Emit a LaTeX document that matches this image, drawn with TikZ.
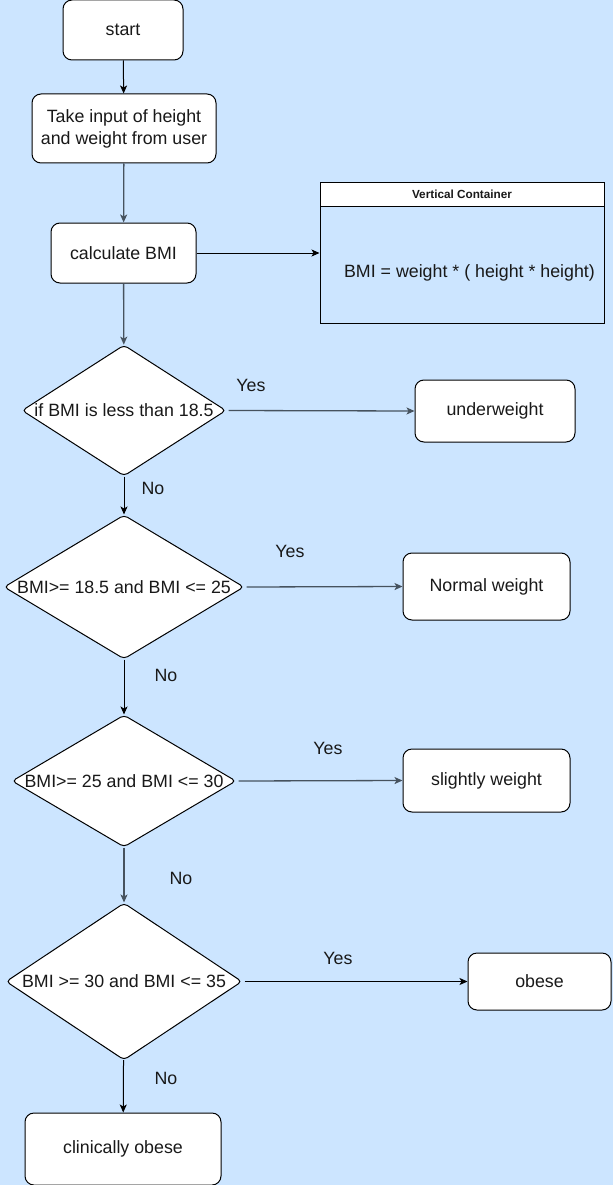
\documentclass[tikz,border=0pt]{standalone}
\usepackage{fontspec}
\setmainfont{Liberation Sans}
\usetikzlibrary{arrows.meta,shapes.geometric}
\definecolor{bg}{HTML}{CCE5FF}
\definecolor{lgray}{HTML}{46525E}
\begin{document}
\begin{tikzpicture}[x=1pt,y=-1pt,
  every node/.style={font=\fontsize{17.8}{22}\selectfont, text=black!90},
  box/.style={draw=black, fill=white, line width=1pt, rounded corners=9pt, inner sep=0pt, align=center},
  dec/.style={draw=black, fill=white, line width=1pt, shape=diamond, rounded corners=4pt, inner sep=0pt},
  lab/.style={inner sep=0pt},
  arr/.style={line width=1pt, -{Stealth[length=8pt,width=7pt,inset=2pt]}},
  garr/.style={arr, draw=lgray, line width=1.3pt},
  barr/.style={arr, draw=black}]
\fill[bg] (0,0) rectangle (613,1185);
\useasboundingbox (0,0) rectangle (613,1185);

% process boxes
\node[box, minimum width=120, minimum height=60] (start) at (123,30) {start};
\node[box, minimum width=184, minimum height=69] (input) at (124,128.5) {Take input of height\\and weight from user};
\node[box, minimum width=145, minimum height=60] (calc) at (123.5,253) {calculate BMI};

% container
\node[draw=black, fill=bg, line width=1pt, minimum width=284, minimum height=140, inner sep=0pt] (cont) at (462,253) {};
\node[draw=black, fill=white, line width=1pt, minimum width=284, minimum height=23, inner sep=0pt, font=\fontsize{11.75}{14}\selectfont\bfseries] (conthead) at (462,194.5) {Vertical Container};
\node[lab] (formula) at (469.5,272.5) {BMI = weight * ( height * height)};

% decisions
\node[dec, minimum width=204, minimum height=131, label={center:if BMI is less than 18.5}] (d1) at (124,410.5) {};
\node[dec, minimum width=240, minimum height=144, label={center:BMI>= 18.5 and BMI <= 25}] (d2) at (124,587) {};
\node[dec, minimum width=224, minimum height=132, label={center:BMI>= 25 and BMI <= 30}] (d3) at (124,781) {};
\node[dec, minimum width=236, minimum height=157, label={center:BMI >= 30 and BMI <= 35}] (d4) at (124,981.5) {};

% outcome boxes
\node[box, minimum width=160, minimum height=62] (under) at (495,411) {underweight};
\node[box, minimum width=167, minimum height=67] (normal) at (486.5,586.5) {Normal weight};
\node[box, minimum width=167, minimum height=63] (slight) at (486.5,780.5) {slightly weight};
\node[box, minimum width=143, minimum height=57] (obese) at (539.5,981.5) {obese};
\node[box, minimum width=196, minimum height=72] (clin) at (123,1149) {clinically obese};

% connectors
\draw[barr] (start) -- (input);
\draw[garr] (input) -- (calc);
\draw[barr] (calc.east) -- (cont.west);
\draw[garr] (calc) -- (d1);
\draw[garr] ([xshift=2pt]d1.east) -- (under.west);
\draw[barr] (d1) -- (d2);
\draw[garr] ([xshift=2pt]d2.east) -- (normal.west);
\draw[barr] (d2) -- (d3);
\draw[garr] ([xshift=2pt]d3.east) -- (slight.west);
\draw[garr] (d3) -- (d4);
\draw[barr] ([xshift=2pt]d4.east) -- (obese.west);
\draw[barr] (d4) -- (clin);

% labels
\node[lab] (y1) at (251,385) {Yes};
\node[lab] (n1) at (153,488) {No};
\node[lab] (y2) at (290,551) {Yes};
\node[lab] (n2) at (166,675) {No};
\node[lab] (y3) at (328,748) {Yes};
\node[lab] (n3) at (181,878) {No};
\node[lab] (y4) at (338,958) {Yes};
\node[lab] (n4) at (166,1078) {No};
\end{tikzpicture}
\end{document}
